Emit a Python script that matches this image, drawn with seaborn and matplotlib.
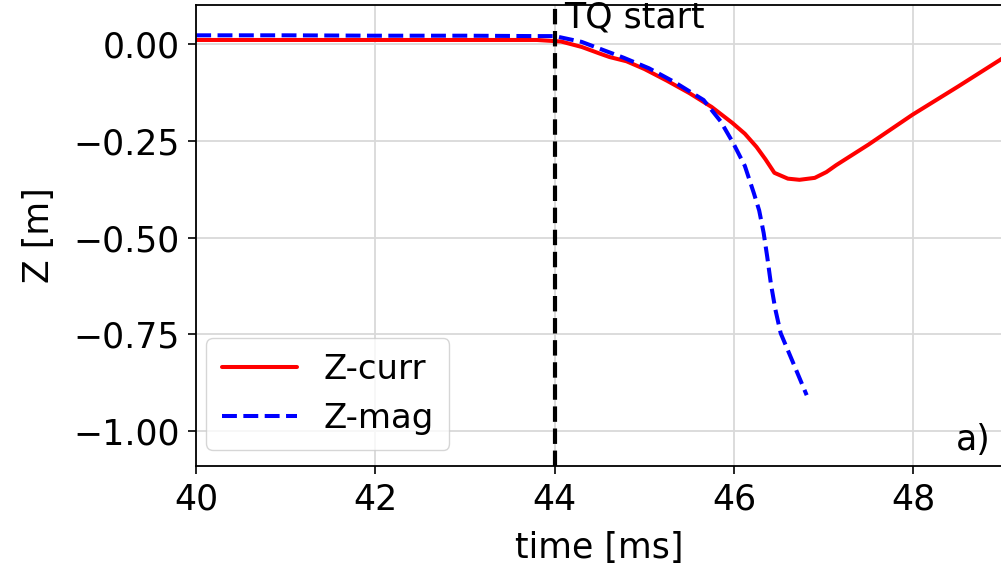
import matplotlib
matplotlib.use("Agg")
import matplotlib.pyplot as plt
import seaborn as sns
import pandas as pd

# Z-curr (current centroid) vs time
t_curr = [40.0, 41.0, 42.0, 43.0, 43.8, 44.07, 44.3, 44.5, 44.61, 44.8, 45.0, 45.25, 45.5,
          45.75, 45.98, 46.12, 46.25, 46.35, 46.45, 46.6, 46.73, 46.9, 47.03, 47.14,
          47.5, 47.99, 48.5, 48.97, 49.0]
z_curr = [0.01, 0.01, 0.01, 0.01, 0.01, 0.006, -0.008, -0.025, -0.034, -0.045, -0.065,
          -0.095, -0.127, -0.163, -0.204, -0.232, -0.266, -0.298, -0.333, -0.348, -0.351,
          -0.346, -0.331, -0.313, -0.26, -0.183, -0.11, -0.041, -0.036]

# Z-mag (magnetic axis) vs time
t_mag = [40.0, 41.0, 42.0, 43.0, 43.8, 44.0, 44.3, 44.77, 45.05, 45.33, 45.66, 45.85, 45.99,
         46.12, 46.22, 46.28, 46.33, 46.37, 46.41, 46.46, 46.52, 46.66, 46.81]
z_mag = [0.022, 0.022, 0.021, 0.021, 0.02, 0.02, 0.005, -0.036, -0.063, -0.098, -0.145,
         -0.2, -0.256, -0.315, -0.385, -0.43, -0.488, -0.55, -0.618, -0.685, -0.747,
         -0.824, -0.907]

tq_start = 44.0

df_curr = pd.DataFrame({"time": t_curr, "Z": z_curr})
df_mag = pd.DataFrame({"time": t_mag, "Z": z_mag})

sns.set_style("whitegrid")
plt.rcParams["font.family"] = ["DejaVu Sans"]
plt.rcParams["font.size"] = 25
for key in ["text.color", "axes.labelcolor", "xtick.color", "ytick.color"]:
    plt.rcParams[key] = "black"

fig = plt.figure(figsize=(10.01, 5.67), dpi=100)
ax = fig.add_axes([0.196, 0.178, 0.806, 0.813])

sns.lineplot(data=df_curr, x="time", y="Z", ax=ax, color="red", lw=2.9, label="Z-curr")
sns.lineplot(data=df_mag, x="time", y="Z", ax=ax, color="blue", lw=2.9, ls="--", label="Z-mag")
ax.axvline(tq_start, color="black", ls="--", lw=3.0)
ax.text(tq_start + 0.1, 0.112, "TQ start", fontsize=25, va="top", ha="left")
ax.text(0.985, 0.02, "a)", transform=ax.transAxes, fontsize=25, ha="right", va="bottom")

ax.set_xlim(40, 49)
ax.set_ylim(-1.09, 0.10)
ax.set_xticks([40, 42, 44, 46, 48])
ax.set_yticks([0.0, -0.25, -0.5, -0.75, -1.0])
ax.set_yticklabels(["0.00", "\u22120.25", "\u22120.50", "\u22120.75", "\u22121.00"])
ax.set_xlabel("time [ms]", fontsize=25, labelpad=10)
ax.set_ylabel("Z [m]", fontsize=25, labelpad=12)
ax.tick_params(axis="both", labelsize=25, length=6, width=1.2, color="black",
               left=True, bottom=True, pad=6)
ax.grid(color="#d9d9d9", lw=1.3)
for s in ax.spines.values():
    s.set_color("black")
    s.set_linewidth(1.3)

leg = ax.legend(loc="lower left", fontsize=24.5, handlelength=2.2, frameon=True,
                bbox_to_anchor=(0.0, 0.013), borderaxespad=0.3, borderpad=0.45,
                labelspacing=0.45)
leg.get_frame().set_edgecolor("#cccccc")

fig.savefig("out.png", dpi=100)
